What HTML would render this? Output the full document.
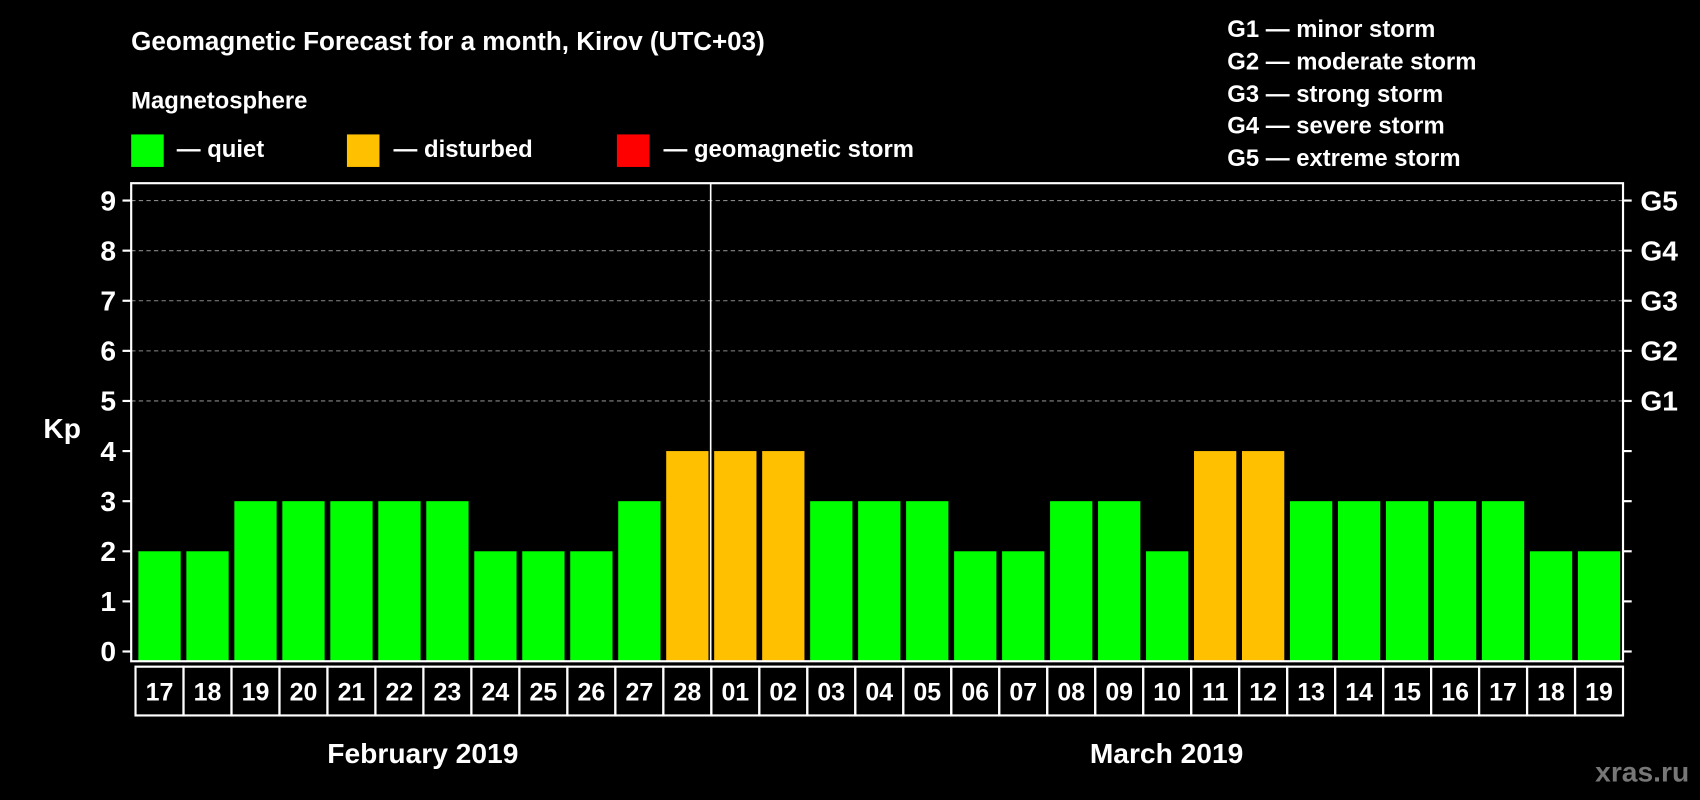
<!DOCTYPE html>
<html><head><meta charset="utf-8"><style>
html,body{margin:0;padding:0;background:#000;width:1700px;height:800px;overflow:hidden}
svg{display:block}
text{font-family:"Liberation Sans",Arial,sans-serif;font-weight:bold;fill:#fff}
</style></head><body>
<svg id="chart" width="1700" height="800" viewBox="0 0 1568 738" preserveAspectRatio="none" xmlns="http://www.w3.org/2000/svg">
<rect x="0" y="0" width="1568" height="738" fill="#000"/>
<text x="121" y="46" font-size="24">Geomagnetic Forecast for a month, Kirov (UTC+03)</text>
<text x="121" y="100" font-size="22">Magnetosphere</text>
<g><rect x="121" y="124" width="30" height="30" fill="#00ff00"/><text x="163" y="145" font-size="22">— quiet</text></g>
<g><rect x="320" y="124" width="30" height="30" fill="#ffc000"/><text x="363" y="145" font-size="22">— disturbed</text></g>
<g><rect x="569" y="124" width="30" height="30" fill="#ff0000"/><text x="612" y="145" font-size="22">— geomagnetic storm</text></g>
<g font-size="22">
<text x="1132" y="34" font-size="22">G1 — minor storm</text>
<text x="1132" y="64" font-size="22">G2 — moderate storm</text>
<text x="1132" y="94" font-size="22">G3 — strong storm</text>
<text x="1132" y="123" font-size="22">G4 — severe storm</text>
<text x="1132" y="153" font-size="22">G5 — extreme storm</text>
</g>
<g id="grid"></g>
<g id="bars"></g>
<rect x="121" y="169" width="1376" height="441" fill="none" stroke="#fff" stroke-width="2"/>
<line x1="655.5" y1="169" x2="655.5" y2="610" stroke="#fff" stroke-width="1.5"/>
<g id="axes"></g>
<g id="dates"></g>
<text x="40" y="404" font-size="26">Kp</text>
<text x="390" y="704" font-size="26" text-anchor="middle">February 2019</text>
<text x="1076" y="704" font-size="26" text-anchor="middle">March 2019</text>
<text x="1558" y="721" font-size="26" text-anchor="end" style="fill:#777">xras.ru</text>
</svg>
<script>
const days = ["17","18","19","20","21","22","23","24","25","26","27","28","01","02","03","04","05","06","07","08","09","10","11","12","13","14","15","16","17","18","19"];
const kpValues = [2,2,3,3,3,3,3,2,2,2,3,4,4,4,3,3,3,2,2,3,3,2,4,4,3,3,3,3,3,2,2];
const yTicks = [0,1,2,3,4,5,6,7,8,9];
const gLabels = ["G1","G2","G3","G4","G5"];
const NS = "http://www.w3.org/2000/svg";
const x0 = 125, x1 = 1497, y0 = 601, y9 = 185, plotBottom = 610;
const step = (x1 - x0) / days.length;
function xCenter(i){ return x0 + step * (i + 0.5); }
function yPos(v){ return y0 - (y0 - y9) * v / 9; }
function mk(tag, attrs, parent){ const e = document.createElementNS(NS, tag); for (const k in attrs) e.setAttribute(k, attrs[k]); parent.appendChild(e); return e; }
const grid = document.getElementById('grid'), bars = document.getElementById('bars'), axes = document.getElementById('axes'), dates = document.getElementById('dates');
yTicks.forEach(v => {
  const y = yPos(v);
  if (v >= 5) {
    const g = mk('line', {x1:121, x2:1497, y1:y, y2:y, stroke:'#888', 'stroke-dasharray':'4,3', 'stroke-width':1}, grid);
    
    
  }
  const tl = mk('line', {x1:113, x2:121, y1:y, y2:y, stroke:'#fff', 'stroke-width':2}, axes);
  
  
  const tr = mk('line', {x1:1497, x2:1505, y1:y, y2:y, stroke:'#fff', 'stroke-width':2}, axes);
  
  
  const t = mk('text', {x:107, y:y + 9, 'font-size':26, 'text-anchor':'end'}, axes);
  t.textContent = v;
  
  
  if (v >= 5) {
    const g = mk('text', {x:1513, y:y + 9, 'font-size':26}, axes);
    g.textContent = gLabels[v - 5];
    
    
  }
});
kpValues.forEach((v, i) => {
  const c = v >= 5 ? '#ff0000' : (v >= 4 ? '#ffc000' : '#00ff00');
  const top = yPos(v);
  const b = mk('rect', {x:xCenter(i) - 19.5, y:top, width:39, height:plotBottom - top, fill:c}, bars);
  
  
});
days.forEach((d, i) => {
  const r = mk('rect', {x:x0 + step * i, y:615, width:step, height:45, fill:'none', stroke:'#fff', 'stroke-width':2}, dates);
  
  
  const t = mk('text', {x:xCenter(i), y:646, 'font-size':23, 'text-anchor':'middle'}, dates);
  t.textContent = d;
  
  
});
</script>
</body></html>
